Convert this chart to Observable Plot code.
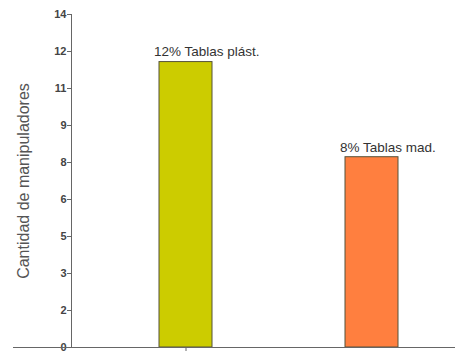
<!DOCTYPE html>
<html>
<head>
<meta charset="utf-8">
<script src="https://cdn.jsdelivr.net/npm/d3@7"></script>
<script src="https://cdn.jsdelivr.net/npm/@observablehq/plot@0.6"></script>
<style>
  html, body { margin: 0; padding: 0; background: #fff; }
  #chart svg { display: block; }
</style>
</head>
<body>
<div id="chart"></div>
<script>
// Handlers per type of cutting board
const categories = ["Tablas plást.", "Tablas mad."];
const counts = [12, 8];
const percents = ["12%", "8%"];
const barColors = ["#cccc00", "#ff7f3f"];

// y axis: nine equal steps up to 14, labels rounded to whole numbers
const yMax = 14;
const yTicks = d3.range(10).map(i => yMax * i / 9);

const data = categories.map((c, i) => ({
  category: c,
  count: counts[i],
  label: `${percents[i]} ${c}`,
  color: barColors[i]
}));

const font = "'Liberation Sans', Arial, sans-serif";

const chart = Plot.plot({
  width: 465,
  height: 358,
  marginLeft: 71,
  marginRight: 10,
  marginTop: 14,
  marginBottom: 11,
  style: { fontFamily: font, background: "#fff" },
  x: { domain: categories, range: [159, 398], paddingInner: 0.716, paddingOuter: 0 },
  y: { domain: [0, yMax] },
  color: { type: "identity" },
  marks: [
    Plot.barY(data, {
      x: "category", y: "count", fill: "color",
      stroke: "#55523a", strokeWidth: 1
    }),
    Plot.text(data, {
      x: "category", y: "count", text: "label",
      textAnchor: "start", dx: -32, dy: -10,
      fontSize: 13.5, fill: "#333"
    }),
    Plot.axisY({
      ticks: yTicks, tickFormat: d => Math.round(d),
      tickSize: 4, tickPadding: 1, fontSize: 11, fontWeight: 600, color: "#444",
      stroke: "#666", label: null
    }),
    Plot.axisX({
      ticks: [categories[0]], tickFormat: () => "",
      tickSize: 4, stroke: "#666", label: null
    }),
    Plot.frame({ anchor: "left", stroke: "#666" }),
    Plot.ruleY([0], { stroke: "#666", insetLeft: -58 }),
    Plot.text(["Cantidad de manipuladores"], {
      frameAnchor: "left", rotate: -90, dx: -48,
      textAnchor: "middle", lineAnchor: "middle",
      fontSize: 16, fill: "#555"
    })
  ]
});

document.getElementById("chart").appendChild(chart);
</script>
</body>
</html>
